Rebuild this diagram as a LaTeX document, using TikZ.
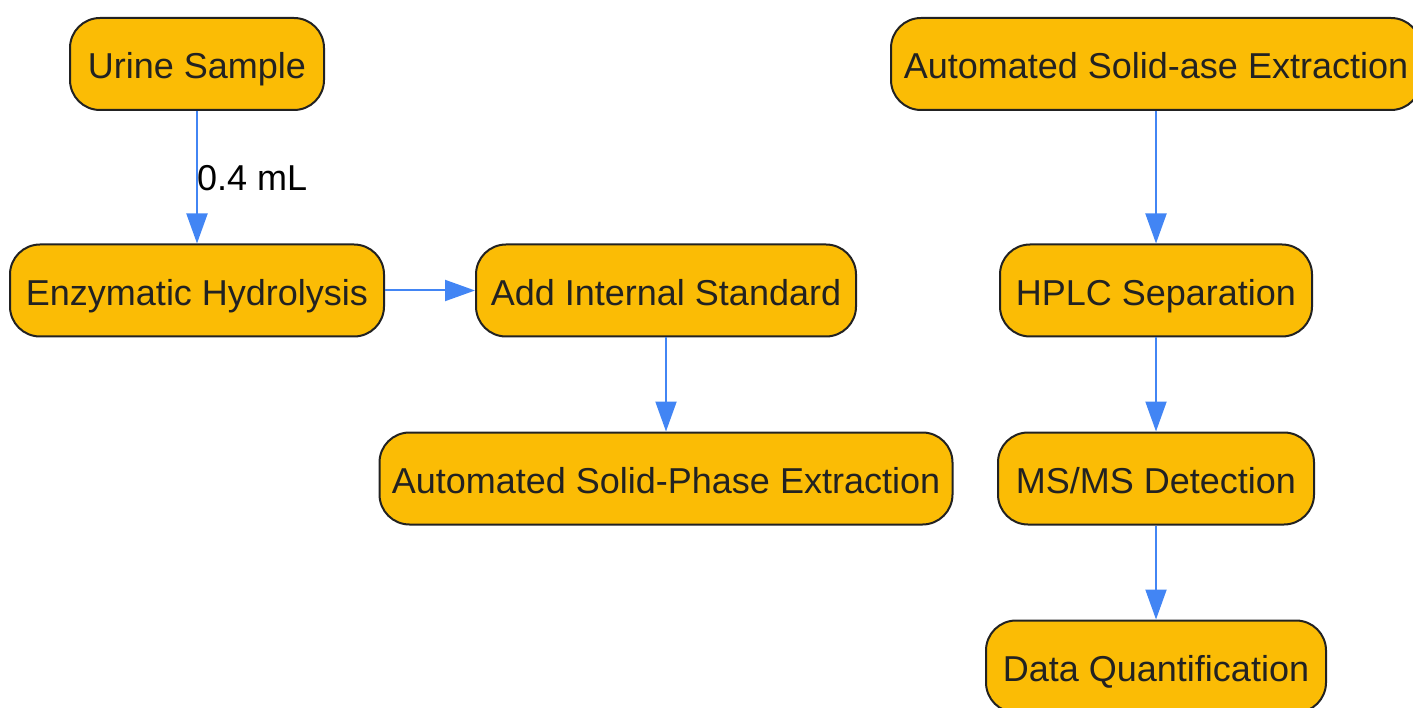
\documentclass[tikz,border=0pt]{standalone}
\usepackage{fontspec}
\setmainfont{Liberation Sans}
\usetikzlibrary{arrows.meta}
\definecolor{boxfill}{HTML}{FBBC05}
\definecolor{boxline}{HTML}{222222}
\definecolor{arrowc}{HTML}{4285F4}
\tikzset{
  stepbox/.style={rectangle, rounded corners=30pt, draw=boxline, line width=2pt, fill=boxfill,
    text=boxline, minimum height=92pt, inner sep=0pt, text height=38pt, text depth=8pt,
    font=\fontsize{36}{43}\selectfont},
  flow/.style={draw=arrowc, line width=2pt, -{Triangle[length=30pt, width=21pt]}},
}
\begin{document}
\begin{tikzpicture}[x=1pt, y=-1pt]
\clip (0,0) rectangle (1413,708);
\useasboundingbox (0,0) rectangle (1413,708);
\node[stepbox, minimum width=254pt] (urine) at (197,64) {Urine Sample};
\node[stepbox, minimum width=374pt] (enz) at (197,290.5) {Enzymatic Hydrolysis};
\node[stepbox, minimum width=380pt] (add) at (666,290.5) {Add Internal Standard};
\node[stepbox, minimum width=573pt] (aspe) at (666,478.5) {Automated Solid-Phase Extraction};
\node[stepbox, minimum width=530pt] (ase) at (1156,64) {Automated Solid-ase Extraction};
\node[stepbox, minimum width=312pt] (hplc) at (1156,290.5) {HPLC Separation};
\node[stepbox, minimum width=316pt] (msms) at (1156,478.5) {MS/MS Detection};
\node[stepbox, minimum width=340pt] (data) at (1156,666.5) {Data Quantification};
\draw[flow] (urine) -- node[pos=0.5, anchor=west, inner sep=0pt, xshift=-1pt, yshift=-1pt, font=\fontsize{36}{43}\selectfont, text=black] {0.4 mL} (enz);
\draw[flow] (enz) -- (add);
\draw[flow] (add) -- (aspe);
\draw[flow] (ase) -- (hplc);
\draw[flow] (hplc) -- (msms);
\draw[flow] (msms) -- (data);
\end{tikzpicture}
\end{document}
